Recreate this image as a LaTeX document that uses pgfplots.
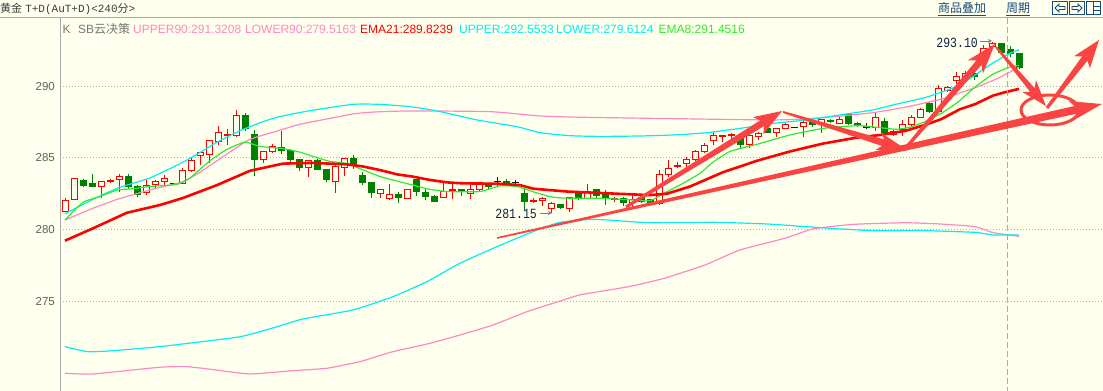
\documentclass[border=0pt]{standalone}
\usepackage{fontspec}
\setmainfont{Liberation Sans}
\newfontfamily\cjk{Noto Sans CJK SC}
\newfontfamily\mono{Liberation Mono}
\usepackage{pgfplots}
\pgfplotsset{compat=1.18}
\usepackage{pgfplotstable}
\usetikzlibrary{calc,arrows.meta}

\definecolor{bg}{RGB}{255,255,238}
\definecolor{kred}{RGB}{255,0,0}
\definecolor{kgreen}{RGB}{0,128,0}
\definecolor{kblack}{RGB}{25,25,25}
\definecolor{cyanc}{RGB}{0,238,242}
\definecolor{pinkc}{RGB}{255,136,196}
\definecolor{greenc}{RGB}{50,232,50}
\definecolor{annotc}{RGB}{250,68,68}
\definecolor{axisgray}{RGB}{170,170,170}
\definecolor{gridgray}{RGB}{175,175,175}
\definecolor{ticktext}{RGB}{95,95,95}
\definecolor{navy}{RGB}{20,35,70}
\definecolor{linkblue}{RGB}{25,75,120}

% up (red, hollow) candles: x o h l c
\pgfplotstableread{
x o h l c
65 281.24 282.22 281.24 282.01
74 282.06 283.55 282.06 283.55
101 283.01 283.36 282.18 283.36
119 283.50 283.87 282.64 283.71
146 282.59 283.50 282.41 283.06
155 283.11 283.46 282.80 283.36
164 283.34 283.80 283.11 283.57
182 283.22 284.27 283.22 284.11
191 284.11 285.04 284.04 284.85
200 285.20 285.44 284.50 285.37
209 285.25 286.23 284.67 286.23
218 286.16 287.23 285.90 286.79
236 286.55 288.34 286.44 287.95
263 284.90 285.43 284.67 285.43
272 285.43 285.97 285.36 285.83
308 284.32 284.85 283.64 284.85
335 283.34 284.62 282.57 284.39
344 284.34 284.97 283.76 284.97
380 282.53 282.80 282.18 282.80
389 282.18 283.15 282.06 282.46
407 282.18 282.80 282.11 282.80
443 282.25 283.34 282.25 282.64
470 282.48 283.15 282.11 282.76
479 282.76 283.15 282.69 283.15
542 281.99 282.29 281.64 282.18
551 281.48 281.94 281.15 281.83
569 281.48 282.22 281.25 282.22
587 282.18 283.18 282.18 282.64
632 281.87 282.41 281.48 282.11
659 281.83 284.16 281.71 283.81
668 283.81 284.85 283.69 284.27
686 284.62 285.09 284.04 284.87
695 284.87 285.55 284.80 285.44
704 285.44 286.05 285.35 285.90
713 286.20 286.83 285.90 286.53
749 285.95 286.53 285.67 286.53
758 286.48 286.83 286.25 286.72
776 286.76 287.06 286.48 287.06
785 287.06 287.41 287.06 287.30
803 287.18 287.60 286.48 287.48
821 287.34 287.69 286.76 287.69
839 287.41 287.88 287.41 287.69
875 287.10 288.20 286.85 287.83
893 286.65 286.95 286.50 286.83
902 286.95 287.65 286.53 287.30
911 287.30 287.99 287.25 287.83
920 287.83 288.45 287.80 288.39
938 288.23 290.09 288.20 289.86
947 289.74 290.02 289.63 289.93
956 290.39 291.02 290.16 290.67
965 290.67 291.05 290.60 290.91
983 292.19 292.88 291.90 292.65
992 292.81 293.10 292.65 293.00
}\upT

% down (green, filled) candles: x o h l c
\pgfplotstableread{
x o h l c
83 283.43 283.53 282.99 283.06
92 283.22 283.87 282.99 282.99
128 283.71 283.87 282.83 282.94
137 283.01 283.08 282.29 282.41
245 287.99 288.11 286.90 287.02
254 286.67 286.95 283.74 284.85
281 285.78 286.88 285.27 285.48
290 285.55 285.60 284.65 284.85
299 284.92 284.92 284.11 284.32
317 284.85 284.92 284.15 284.15
326 284.22 284.22 283.29 283.46
353 284.97 285.20 284.22 284.50
362 283.81 283.99 283.11 283.27
371 283.34 283.34 282.22 282.53
398 282.48 282.64 281.83 282.18
416 283.50 283.50 282.34 282.64
425 282.64 282.87 282.06 282.29
434 282.34 282.41 281.94 281.94
461 282.83 282.83 282.36 282.69
488 283.18 283.18 282.80 282.94
506 283.39 283.53 283.06 283.22
524 282.57 282.87 281.36 281.94
560 281.78 281.78 281.41 281.48
578 282.53 282.64 282.06 282.22
596 282.80 282.80 282.18 282.36
605 282.57 282.76 281.71 282.11
623 282.18 282.29 281.64 281.87
641 282.29 282.41 281.83 281.94
650 282.11 282.15 281.71 281.87
740 286.37 286.72 285.60 285.90
767 287.11 287.41 286.76 286.76
812 287.48 287.60 287.18 287.30
830 287.65 287.70 287.45 287.51
848 288.04 288.10 287.30 287.34
857 287.41 287.53 287.18 287.30
884 287.60 287.80 286.70 286.75
929 288.81 288.93 288.11 288.23
974 290.91 291.02 290.44 290.67
1001 293.00 293.05 292.30 292.35
1010 292.58 292.81 292.07 292.26
1019 292.30 292.35 291.19 291.26
}\downT

% red crosses: x o h l
\pgfplotstableread{
x o h l
110 283.36 283.50 283.22
227 286.57 287.02 285.90
452 282.78 283.15 282.13
533 282.00 282.18 281.87
614 282.12 282.29 281.94
677 284.45 284.74 284.27
722 286.50 286.60 286.13
731 286.60 286.72 286.25
}\rcrossT

% black crosses: x o h l
\pgfplotstableread{
x o h l
173 283.22 283.25 283.20
497 283.34 283.69 282.94
515 283.29 283.45 283.06
794 287.13 287.18 287.08
866 287.15 287.41 286.99
}\bcrossT

\pgfplotsset{
  ebar/.style n args={2}{draw=none, no markers, forget plot,
    error bars/error mark=none,
    error bars/error bar style={draw=#1, line width=#2}},
}

\newcommand\tarrow[7]{%
  \coordinate (ta) at #1;
  \coordinate (tb) at #2;
  \coordinate (tc) at ($(tb)!#5!(ta)$);
  \coordinate (tn) at ($(tb)!#7!(ta)$);
  \fill[annotc] ($(ta)!#3!90:(tb)$) -- ($(ta)!#3!-90:(tb)$) -- ($(tn)!#4!-90:(tb)$) -- ($(tn)!#4!90:(tb)$) -- cycle;
  \fill[annotc] (tb) -- ($(tc)!#6!90:(tb)$) -- (tn) -- ($(tc)!#6!-90:(tb)$) -- cycle;
}

\begin{document}
\begin{tikzpicture}
\useasboundingbox (0,0) rectangle (1103bp,391bp);
\fill[bg] (0,0) rectangle (1103bp,391bp);

\begin{axis}[
  at={(60bp,0bp)}, anchor=south west,
  width=1043bp, height=373bp, scale only axis,
  xmin=60, xmax=1103, ymin=268.72, ymax=294.77,
  axis x line*=bottom, axis y line*=left,
  axis line style={draw=axisgray, line width=1bp, -},
  x axis line style={-}, y axis line style={-},
  xtick=\empty, ytick={275,280,285,290},
  ymajorgrids,
  grid style={draw=gridgray, dash pattern=on 1bp off 2bp, line width=0.9bp},
  major tick length=0pt,
  /pgf/number format/assume math mode=true,
  yticklabel style={font=\fontsize{11.5bp}{13bp}\selectfont, text=ticktext, anchor=east, inner sep=0pt, xshift=-5bp},
]
% ---- green candles
\addplot[ebar={kgreen}{1bp}, error bars/y dir=plus, error bars/y explicit]
  table[x=x, y=l, y error expr=\thisrow{h}-\thisrow{l}] {\downT};
\addplot[ebar={kgreen}{7bp}, error bars/y dir=plus, error bars/y explicit]
  table[x=x, y=c, y error expr=\thisrow{o}-\thisrow{c}] {\downT};
% ---- red hollow candles
\addplot[ebar={kred}{1bp}, error bars/y dir=minus, error bars/y explicit, error bars/x dir=both, error bars/x fixed=3.5]
  table[x=x, y=o, y error expr=\thisrow{o}-\thisrow{l}] {\upT};
\addplot[ebar={kred}{1bp}, error bars/y dir=plus, error bars/y explicit, error bars/x dir=both, error bars/x fixed=3.5]
  table[x=x, y=c, y error expr=\thisrow{h}-\thisrow{c}] {\upT};
\addplot[ebar={kred}{1bp}, error bars/y dir=plus, error bars/y explicit]
  table[x expr=\thisrow{x}-3, y=o, y error expr=\thisrow{c}-\thisrow{o}] {\upT};
\addplot[ebar={kred}{1bp}, error bars/y dir=plus, error bars/y explicit]
  table[x expr=\thisrow{x}+3, y=o, y error expr=\thisrow{c}-\thisrow{o}] {\upT};
% ---- crosses
\addplot[ebar={kred}{1bp}, error bars/y dir=plus, error bars/y explicit]
  table[x=x, y=l, y error expr=\thisrow{h}-\thisrow{l}] {\rcrossT};
\addplot[ebar={kred}{2bp}, error bars/x dir=both, error bars/x fixed=3.5]
  table[x=x, y=o] {\rcrossT};
\addplot[ebar={kblack}{1bp}, error bars/y dir=plus, error bars/y explicit]
  table[x=x, y=l, y error expr=\thisrow{h}-\thisrow{l}] {\bcrossT};
\addplot[ebar={kblack}{1.3bp}, error bars/x dir=both, error bars/x fixed=3.5]
  table[x=x, y=o] {\bcrossT};

% ---- LOWER90 (pink)
\addplot[draw=pinkc, line width=1.2bp, smooth, tension=0.3, mark=none] coordinates {
(65,269.96) (93,269.91) (160,270.38) (187,270.42) (210,270.24) (250,269.91) (293,270.14) (327,270.31) (360,270.77) (393,271.47) (427,272.0) (460,272.63) (493,273.33) (527,274.26) (560,275.0) (581,275.45) (629,276.01) (664,276.59) (705,277.52) (740,278.57) (785,279.39) (813,280.04) (854,280.36) (906,280.47) (941,280.38) (975,280.20) (993,279.78) (1019,279.52)};
% ---- LOWER (cyan)
\addplot[draw=cyanc, line width=1.2bp, smooth, tension=0.3, mark=none] coordinates {
(65,271.82) (87,271.47) (110,271.52) (160,271.82) (240,272.51) (277,273.21) (303,273.75) (353,274.38) (393,275.31) (427,276.36) (460,277.64) (497,278.80) (533,279.85) (560,280.5) (595,280.71) (647,280.48) (716,280.50) (768,280.38) (820,280.13) (872,279.92) (924,279.92) (975,279.80) (993,279.62) (1019,279.61)};
% ---- UPPER90 (pink)
\addplot[draw=pinkc, line width=1.2bp, smooth, tension=0.3, mark=none] coordinates {
(65,280.66) (90,281.4) (117,282.1) (150,282.76) (183,283.34) (200,284.0) (217,284.8) (233,285.55) (250,286.3) (283,287.0) (300,287.35) (327,287.72) (353,288.07) (373,288.2) (410,288.28) (490,288.23) (540,287.93) (580,287.84) (664,287.75) (768,287.65) (800,287.7) (837,287.9) (872,288.15) (906,288.55) (941,289.1) (975,289.9) (996,290.5) (1019,291.32)};
% ---- UPPER (cyan)
\addplot[draw=cyanc, line width=1.2bp, smooth, tension=0.3, mark=none] coordinates {
(65,281.1) (83,281.75) (100,282.35) (120,282.95) (150,283.6) (183,284.7) (203,285.5) (217,286.1) (240,286.9) (260,287.45) (277,287.84) (310,288.30) (353,288.74) (380,288.74) (410,288.58) (437,288.28) (477,287.65) (517,287.18) (540,286.76) (570,286.55) (600,286.5) (640,286.53) (673,286.6) (707,286.76) (740,287.06) (773,287.41) (807,287.65) (840,288.0) (873,288.35) (893,288.7) (927,289.25) (960,290.09) (987,291.37) (1007,292.2) (1019,292.55)};
% ---- EMA8 (green)
\addplot[draw=greenc, line width=1.2bp, smooth, tension=0.3, mark=none] coordinates {
(65,280.66) (83,281.9) (100,282.3) (117,282.75) (133,282.85) (150,283.0) (177,283.15) (190,283.6) (210,284.8) (227,285.6) (245,286.1) (260,285.8) (283,285.65) (300,285.4) (313,285.1) (330,284.75) (347,284.6) (380,283.7) (413,283.1) (430,282.8) (447,282.65) (480,282.65) (500,283.05) (517,283.0) (533,282.64) (550,282.29) (567,282.18) (600,282.18) (633,282.06) (650,282.01) (667,282.64) (683,283.22) (700,283.92) (713,284.7) (730,285.45) (757,285.95) (790,286.6) (823,287.06) (857,287.25) (875,287.15) (896,287.0) (910,287.15) (924,287.5) (941,288.1) (958,288.9) (975,289.95) (993,290.85) (1010,291.35) (1019,291.45)};
% ---- EMA21 (red, thick)
\addplot[draw=kred, line width=2.6bp, mark=none] coordinates {
(65,279.22) (93,280.08) (127,281.17) (160,281.71) (183,282.2) (217,283.1) (250,284.1) (283,284.6) (313,284.65) (347,284.55) (363,284.4) (380,284.15) (397,283.85) (413,283.69) (430,283.46) (447,283.29) (463,283.22) (497,283.2) (520,283.1) (533,282.85) (567,282.65) (600,282.55) (633,282.45) (650,282.4) (667,282.5) (690,283.0) (723,284.0) (757,284.8) (790,285.45) (823,286.0) (857,286.42) (880,286.6) (906,286.9) (927,287.35) (941,287.7) (960,288.4) (975,288.75) (993,289.35) (1003,289.55) (1019,289.82)};
\end{axis}

% ---------- overlay in pixel coordinates (origin top-left)
\begin{scope}[x=1bp, y=-1bp, yshift=391bp]
% header
\draw[axisgray, line width=1bp] (0,17.5) -- (1103,17.5);
\node[anchor=base west, inner sep=0, text={rgb,255:red,60;green,60;blue,60}, font=\fontsize{11bp}{12bp}\selectfont] at (0,13)
  {{\cjk 黄金} {\mono T+D(AuT+D)<240}{\cjk 分}{\mono >}};
\node[anchor=base west, inner sep=0, text=linkblue, font=\fontsize{12bp}{13bp}\selectfont\cjk] at (938,12.5) {商品叠加};
\draw[linkblue, line width=0.8bp] (938,15) -- (986,15);
\node[anchor=base west, inner sep=0, text=linkblue, font=\fontsize{12bp}{13bp}\selectfont\cjk] at (1006,12.5) {周期};
\draw[linkblue, line width=0.8bp] (1006,15) -- (1030,15);
\draw[linkblue, line width=1bp] (1052.5,1.5) rectangle (1067.5,14.5);
\draw[linkblue, line width=1bp] (1069.5,1.5) rectangle (1084.5,14.5);
\draw[linkblue, line width=1bp] (1086.5,1.5) rectangle (1100.5,14.5);
\draw[linkblue, line width=0.9bp] (1055,8) -- (1059,4) -- (1059,6.5) -- (1065,6.5) -- (1065,9.5) -- (1059,9.5) -- (1059,12) -- cycle;
\draw[linkblue, line width=0.9bp] (1082,8) -- (1078,4) -- (1078,6.5) -- (1072,6.5) -- (1072,9.5) -- (1078,9.5) -- (1078,12) -- cycle;
\draw[linkblue, line width=0.9bp] (1093.5,1.5) -- (1093.5,14.5) (1093.5,6) -- (1100.5,6) (1093.5,10) -- (1100.5,10);
% legend line
\begin{scope}[every node/.style={anchor=base west, inner sep=0, font=\fontsize{12bp}{13bp}\selectfont}]
\node[text={rgb,255:red,120;green,120;blue,120}] at (62.5,34) {K};
\node[text={rgb,255:red,120;green,120;blue,120}] at (78,34) {SB{\cjk 云决策}};
\node[text=pinkc] at (133,34) {UPPER90:291.3208};
\node[text=pinkc] at (245,34) {LOWER90:279.5163};
\node[text=kred] at (360,34) {EMA21:289.8239};
\node[text=cyanc] at (459,34) {UPPER:292.5533};
\node[text=cyanc] at (556,34) {LOWER:279.6124};
\node[text=greenc] at (658.5,34) {EMA8:291.4516};
\end{scope}
% vertical dashed cursor line
\draw[axisgray, line width=1bp, dash pattern=on 6bp off 3bp] (1007.5,18) -- (1007.5,391);
% price labels
\node[anchor=base east, inner sep=0, text=navy] at (978,47.5)
  {\scalebox{0.82}[1]{\mono\fontsize{14bp}{14bp}\selectfont 293.10}};
\draw[gray, line width=0.8bp, -{Stealth[length=4bp,width=4bp]}] (980,41) -- (992,41);
\node[anchor=base east, inner sep=0, text=navy] at (537,219)
  {\scalebox{0.82}[1]{\mono\fontsize{14bp}{14bp}\selectfont 281.15}};
\draw[gray, line width=0.8bp, -{Stealth[length=4bp,width=4bp]}] (540,213) -- (552,213);
% hand-drawn red arrows
\tarrow{(497,238)}{(1102,104)}{0.8bp}{4bp}{32bp}{10bp}{24bp}
\tarrow{(626,207)}{(782,111)}{1.5bp}{3.5bp}{28bp}{10bp}{21bp}
\tarrow{(783,112)}{(907,150)}{1bp}{3.5bp}{30bp}{9bp}{22bp}
\tarrow{(904,150)}{(995,44)}{1.5bp}{3.5bp}{30bp}{10bp}{22bp}
\tarrow{(918,134)}{(982,60)}{0.8bp}{1.5bp}{1bp}{0.5bp}{1bp}
\tarrow{(996,47)}{(1046,106)}{1bp}{3bp}{26bp}{9bp}{19bp}
\tarrow{(1047,108)}{(1099,40)}{1.5bp}{3.5bp}{28bp}{10bp}{21bp}
\draw[annotc, line width=3bp] (1050,110) ellipse [x radius=29bp, y radius=15bp];
\end{scope}
\end{tikzpicture}
\end{document}
